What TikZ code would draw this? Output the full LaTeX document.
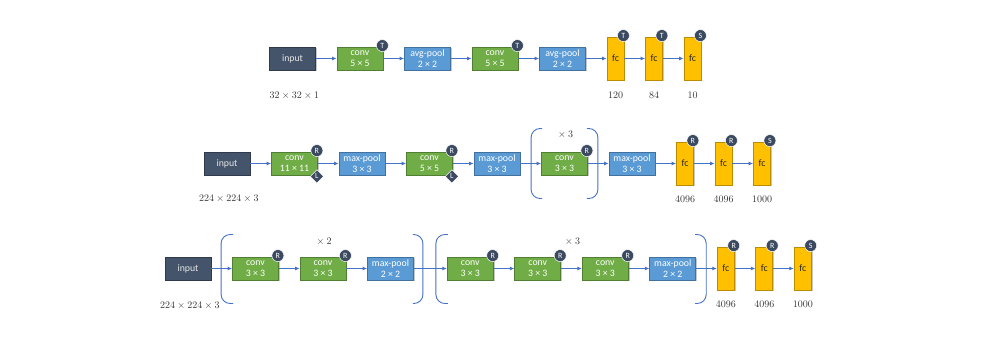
\documentclass[tikz,border=0pt]{standalone}
\usepackage{fontspec}
\setmainfont{Carlito}
\usetikzlibrary{shapes.geometric, arrows.meta, positioning, shadows, calc}
\definecolor{inputslate}{HTML}{44546A}
\definecolor{inputedge}{HTML}{2F3B4C}
\definecolor{convgreen}{HTML}{70AD47}
\definecolor{convedge}{HTML}{507E32}
\definecolor{poolblue}{HTML}{5B9BD5}
\definecolor{pooledge}{HTML}{41719C}
\definecolor{fcgold}{HTML}{FFC000}
\definecolor{fcedge}{HTML}{BC8C00}
\definecolor{badgenavy}{HTML}{3B4A60}
\definecolor{flowblue}{HTML}{4472C4}
\tikzset{
    layer/.style={rectangle, minimum width=46pt, minimum height=23pt, inner sep=0pt,
                  line width=0.8pt, align=center, text=white,
                  font=\fontsize{9.8}{11}\selectfont,
                  drop shadow={shadow xshift=1.2pt, shadow yshift=-1.2pt, fill=black, opacity=0.22}},
    inbox/.style={layer, draw=inputedge, fill=inputslate, text=white!90!black},
    convbox/.style={layer, draw=convedge, fill=convgreen},
    poolbox/.style={layer, draw=pooledge, fill=poolblue},
    fcbox/.style={layer, minimum width=17pt, minimum height=43pt, draw=fcedge, fill=fcgold, text=black!85},
    badge/.style={circle, fill=badgenavy, draw=white, line width=0.5pt, inner sep=0pt,
                  minimum size=12pt, text=white, font=\fontsize{8}{8}\selectfont},
    lbadge/.style={badge, diamond, minimum size=13.5pt},
    arrow/.style={line width=0.8pt, -{Latex[length=4.5pt,width=4pt]}, flowblue},
    bracket/.style={line width=0.9pt, flowblue, rounded corners=9pt},
    dim/.style={font=\fontsize{10}{12}\selectfont, text=black!80}
}
\begin{document}
\begin{tikzpicture}[x=1pt, y=-1pt, node distance=20.7pt]
    \useasboundingbox (0,0) rectangle (1005,358);

    % LeNet row
    \node[inbox] (le-in) at (292.5,58.5) {input};
    \node[convbox, right=of le-in] (le-c1) {conv\\5 × 5};
    \node[poolbox, right=of le-c1] (le-p1) {avg-pool\\2 × 2};
    \node[convbox, right=of le-p1] (le-c2) {conv\\5 × 5};
    \node[poolbox, right=of le-c2] (le-p2) {avg-pool\\2 × 2};
    \node[fcbox, right=of le-p2] (le-f1) {fc};
    \node[fcbox, right=of le-f1] (le-f2) {fc};
    \node[fcbox, right=of le-f2] (le-f3) {fc};

    \draw[arrow] (le-in) -- (le-c1);
    \draw[arrow] (le-c1) -- (le-p1);
    \draw[arrow] (le-p1) -- (le-c2);
    \draw[arrow] (le-c2) -- (le-p2);
    \draw[arrow] (le-p2) -- (le-f1);
    \draw[arrow] (le-f1) -- (le-f2);
    \draw[arrow] (le-f2) -- (le-f3);

    \node[badge] (le-c1-act) at ([xshift=-1pt,yshift=1pt]le-c1.north east) {T};
    \node[badge] (le-c2-act) at ([xshift=-1pt,yshift=1pt]le-c2.north east) {T};
    \node[badge] (le-f1-act) at ([xshift=-1pt,yshift=1pt]le-f1.north east) {T};
    \node[badge] (le-f2-act) at ([xshift=-1pt,yshift=1pt]le-f2.north east) {T};
    \node[badge] (le-f3-act) at ([xshift=-1pt,yshift=1pt]le-f3.north east) {S};

    \node[dim, anchor=west] (le-size) at ([xshift=-3pt,yshift=-37pt]le-in.west) {$32\times32\times1$};
    \node[dim] (le-f1-n) at ([yshift=-15pt]le-f1.south) {$120$};
    \node[dim] (le-f2-n) at ([yshift=-15pt]le-f2.south) {$84$};
    \node[dim] (le-f3-n) at ([yshift=-15pt]le-f3.south) {$10$};

    % AlexNet row
    \node[inbox] (al-in) at (227,163.5) {input};
    \node[convbox, right=of al-in] (al-c1) {conv\\11 × 11};
    \node[poolbox, right=of al-c1] (al-p1) {max-pool\\3 × 3};
    \node[convbox, right=of al-p1] (al-c2) {conv\\5 × 5};
    \node[poolbox, right=of al-c2] (al-p2) {max-pool\\3 × 3};
    \node[convbox, right=of al-p2] (al-c3) {conv\\3 × 3};
    \node[poolbox, right=of al-c3] (al-p3) {max-pool\\3 × 3};
    \node[fcbox, right=of al-p3] (al-f1) {fc};
    \node[fcbox, right=of al-f1] (al-f2) {fc};
    \node[fcbox, right=of al-f2] (al-f3) {fc};

    \draw[arrow] (al-in) -- (al-c1);
    \draw[arrow] (al-c1) -- (al-p1);
    \draw[arrow] (al-p1) -- (al-c2);
    \draw[arrow] (al-c2) -- (al-p2);
    \draw[arrow] (al-p2) -- (al-c3);
    \draw[arrow] (al-c3) -- (al-p3);
    \draw[arrow] (al-p3) -- (al-f1);
    \draw[arrow] (al-f1) -- (al-f2);
    \draw[arrow] (al-f2) -- (al-f3);

    % repeated block
    \draw[bracket] ($(al-c3.west)+(1,-35)$) -- ++(-11,0) -- ++(0,70) -- ++(11,0);
    \draw[bracket] ($(al-c3.east)+(-1,-35)$) -- ++(11,0) -- ++(0,70) -- ++(-11,0);
    \node[dim] (al-rep) at ($(al-c3.north)+(0,-17)$) {${}\times 3$};

    \node[badge] (al-c1-act) at ([xshift=-1pt,yshift=1pt]al-c1.north east) {R};
    \node[lbadge] (al-c1-norm) at ([xshift=-1pt,yshift=-1pt]al-c1.south east) {L};
    \node[badge] (al-c2-act) at ([xshift=-1pt,yshift=1pt]al-c2.north east) {R};
    \node[lbadge] (al-c2-norm) at ([xshift=-1pt,yshift=-1pt]al-c2.south east) {L};
    \node[badge] (al-c3-act) at ([xshift=-1pt,yshift=1pt]al-c3.north east) {R};
    \node[badge] (al-f1-act) at ([xshift=-1pt,yshift=1pt]al-f1.north east) {R};
    \node[badge] (al-f2-act) at ([xshift=-1pt,yshift=1pt]al-f2.north east) {R};
    \node[badge] (al-f3-act) at ([xshift=-1pt,yshift=1pt]al-f3.north east) {S};

    \node[dim, anchor=west] (al-size) at ([xshift=-8pt,yshift=-35pt]al-in.west) {$224\times224\times3$};
    \node[dim] (al-f1-n) at ([yshift=-14pt]al-f1.south) {$4096$};
    \node[dim] (al-f2-n) at ([yshift=-14pt]al-f2.south) {$4096$};
    \node[dim] (al-f3-n) at ([yshift=-14pt]al-f3.south) {$1000$};

    % VGG row
    \node[inbox] (vg-in) at (188,268.5) {input};
    \node[convbox, right=of vg-in] (vg-c1) {conv\\3 × 3};
    \node[convbox, right=of vg-c1] (vg-c2) {conv\\3 × 3};
    \node[poolbox, right=of vg-c2] (vg-p1) {max-pool\\2 × 2};
    \node[convbox, right=33pt of vg-p1] (vg-c3) {conv\\3 × 3};
    \node[convbox, right=of vg-c3] (vg-c4) {conv\\3 × 3};
    \node[convbox, right=of vg-c4] (vg-c5) {conv\\3 × 3};
    \node[poolbox, right=of vg-c5] (vg-p2) {max-pool\\2 × 2};
    \node[fcbox, right=of vg-p2] (vg-f1) {fc};
    \node[fcbox, right=of vg-f1] (vg-f2) {fc};
    \node[fcbox, right=of vg-f2] (vg-f3) {fc};

    \draw[arrow] (vg-in) -- (vg-c1);
    \draw[arrow] (vg-c1) -- (vg-c2);
    \draw[arrow] (vg-c2) -- (vg-p1);
    \draw[arrow] (vg-p1) -- (vg-c3);
    \draw[arrow] (vg-c3) -- (vg-c4);
    \draw[arrow] (vg-c4) -- (vg-c5);
    \draw[arrow] (vg-c5) -- (vg-p2);
    \draw[arrow] (vg-p2) -- (vg-f1);
    \draw[arrow] (vg-f1) -- (vg-f2);
    \draw[arrow] (vg-f2) -- (vg-f3);

    % repeated blocks
    \draw[bracket] ($(vg-c1.west)+(1,-34)$) -- ++(-12,0) -- ++(0,69) -- ++(12,0);
    \draw[bracket] ($(vg-p1.east)+(-1,-34)$) -- ++(10,0) -- ++(0,69) -- ++(-10,0);
    \node[dim] (vg-rep1) at ($($(vg-c1.north)!0.5!(vg-p1.north)$)+(0,-15)$) {${}\times 2$};
    \draw[bracket] ($(vg-c3.west)+(1,-34)$) -- ++(-12,0) -- ++(0,69) -- ++(12,0);
    \draw[bracket] ($(vg-p2.east)+(-1,-34)$) -- ++(11,0) -- ++(0,69) -- ++(-11,0);
    \node[dim] (vg-rep2) at ($($(vg-c3.north)!0.5!(vg-p2.north)$)+(0,-15)$) {${}\times 3$};

    \node[badge] (vg-c1-act) at ([xshift=-1pt,yshift=1pt]vg-c1.north east) {R};
    \node[badge] (vg-c2-act) at ([xshift=-1pt,yshift=1pt]vg-c2.north east) {R};
    \node[badge] (vg-c3-act) at ([xshift=-1pt,yshift=1pt]vg-c3.north east) {R};
    \node[badge] (vg-c4-act) at ([xshift=-1pt,yshift=1pt]vg-c4.north east) {R};
    \node[badge] (vg-c5-act) at ([xshift=-1pt,yshift=1pt]vg-c5.north east) {R};
    \node[badge] (vg-f1-act) at ([xshift=-1pt,yshift=1pt]vg-f1.north east) {R};
    \node[badge] (vg-f2-act) at ([xshift=-1pt,yshift=1pt]vg-f2.north east) {R};
    \node[badge] (vg-f3-act) at ([xshift=-1pt,yshift=1pt]vg-f3.north east) {S};

    \node[dim, anchor=west] (vg-size) at ([xshift=-8pt,yshift=-37pt]vg-in.west) {$224\times224\times3$};
    \node[dim] (vg-f1-n) at ([yshift=-14pt]vg-f1.south) {$4096$};
    \node[dim] (vg-f2-n) at ([yshift=-14pt]vg-f2.south) {$4096$};
    \node[dim] (vg-f3-n) at ([yshift=-14pt]vg-f3.south) {$1000$};
\end{tikzpicture}
\end{document}
